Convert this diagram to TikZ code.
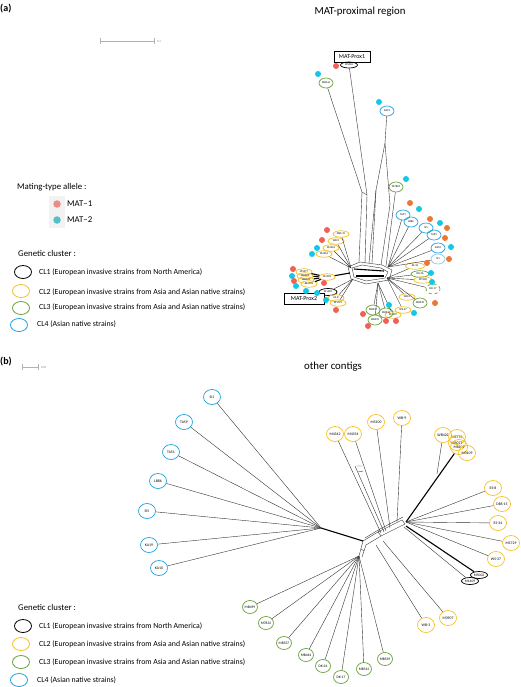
\documentclass[tikz,border=0pt]{standalone}
\usepackage{fontspec}
\setmainfont{Carlito}
\usetikzlibrary{shapes.geometric,positioning}
\definecolor{clyellow}{RGB}{246,192,36}
\definecolor{clgreen}{RGB}{104,160,56}
\definecolor{clblue}{RGB}{28,160,222}
\definecolor{cllight}{RGB}{130,200,236}
\definecolor{matred}{RGB}{240,96,86}
\definecolor{matcyan}{RGB}{18,200,228}
\definecolor{matorange}{RGB}{236,118,52}
\definecolor{keyred}{RGB}{236,140,132}
\definecolor{keycyan}{RGB}{86,190,198}

\begin{document}
\begin{tikzpicture}[x=1pt, y=-1pt,
    strain/.style={ellipse, draw, line width=0.7pt, inner sep=0pt, font=\fontsize{2.8}{3}\selectfont},
    sa/.style={strain, minimum width=14pt, minimum height=10pt},
    sy/.style={strain, minimum width=16pt, minimum height=6.5pt},
    sb/.style={strain, minimum width=17pt, minimum height=15pt, font=\fontsize{3.8}{4}\selectfont},
    sg/.style={strain, minimum width=15pt, minimum height=13pt, font=\fontsize{3.6}{4}\selectfont},
    c1/.style={draw=black},
    c2/.style={draw=clyellow},
    c3/.style={draw=clgreen},
    c4/.style={draw=clblue},
    mat/.style={circle, inner sep=0pt, minimum size=6pt},
    prox/.style={draw, fill=white, inner sep=0pt, minimum height=11pt, font=\fontsize{6}{7}\selectfont},
    branch/.style={draw=black!80, line width=0.4pt},
    heavy/.style={draw=black, line width=1.1pt},
    legtext/.style={font=\fontsize{8.8}{10}\selectfont, anchor=west, inner sep=0pt},
    cltext/.style={font=\fontsize{7.8}{9}\selectfont, anchor=west, inner sep=0pt},
    legkey/.style={ellipse, draw, line width=0.8pt, minimum width=17pt, minimum height=13pt, inner sep=0pt},
    headtext/.style={font=\fontsize{10.8}{12}\selectfont}
]
\useasboundingbox (0,0) rectangle (520,687);

% panel letters and titles
\node[font=\bfseries\fontsize{10}{12}\selectfont, anchor=west, inner sep=0pt] (pa) at (0,9) {(a)};
\node[font=\bfseries\fontsize{10}{12}\selectfont, anchor=west, inner sep=0pt] (pb) at (0,362) {(b)};
\node[headtext] (ta) at (360,12) {MAT-proximal region};
\node[headtext] (tb) at (333,367) {other contigs};

% scale bars
\coordinate (sa1) at (100,41);
\coordinate (sa2) at (155,41);
\draw[gray!60, line width=0.6pt, |-|] (sa1) -- (sa2);
\node[font=\fontsize{3}{3}\selectfont, text=gray, anchor=west, inner sep=0pt] (sal) at (157,42) {0.1};
\coordinate (sb1) at (22,367);
\coordinate (sb2) at (39,367);
\draw[gray!60, line width=0.6pt, |-|] (sb1) -- (sb2);
\node[font=\fontsize{3}{3}\selectfont, text=gray, anchor=west, inner sep=0pt] (sbl) at (41,368) {0.01};

% legend (a)
\node[legtext] (matlab) at (17,187) {Mating-type allele :};
\fill[gray!10] (49,196) rectangle (65,228);
\node[mat, fill=keyred, minimum size=7.5pt] (k1) at (57,204) {};
\node[mat, fill=keycyan, minimum size=7.5pt] (k2) at (57,220) {};
\node[legtext, right=6pt of k1] (k1t) {MAT–1};
\node[legtext, right=6pt of k2] (k2t) {MAT–2};

\node[legtext] (gcla) at (18,253) {Genetic cluster :};
\node[legkey, c1] (la1) at (23,272) {};
\node[legkey, c2] (la2) at (21,291) {};
\node[legkey, c3] (la3) at (21,308) {};
\node[legkey, c4] (la4) at (19,325) {};
\node[cltext] (ta1) at (39,272) {CL1 (European invasive strains from North America)};
\node[cltext] (ta2) at (39,292) {CL2 (European invasive strains from Asia and Asian native strains)};
\node[cltext] (ta3) at (39,307) {CL3 (European invasive strains from Asia and Asian native strains)};
\node[cltext] (ta4) at (37,324) {CL4 (Asian native strains)};

% legend (b)
\node[legtext] (gclb) at (18,607) {Genetic cluster :};
\node[legkey, c1] (lb1) at (23,626) {};
\node[legkey, c2] (lb2) at (21,644) {};
\node[legkey, c3] (lb3) at (21,662) {};
\node[legkey, c4] (lb4) at (19,680) {};
\node[cltext] (tb1) at (39,626) {CL1 (European invasive strains from North America)};
\node[cltext] (tb2) at (39,644) {CL2 (European invasive strains from Asia and Asian native strains)};
\node[cltext] (tb3) at (39,662) {CL3 (European invasive strains from Asia and Asian native strains)};
\node[cltext] (tb4) at (37,680) {CL4 (Asian native strains)};

% ---------- network (a) ----------
\node[prox] (prox1) at (352,56.5) [minimum width=36pt] {MAT-Prox1};
\node[sy, c1, minimum width=17pt, minimum height=6pt] (aM5002) at (349,65) {M5002};
\node[sa, c3] (aMB444) at (326,83) {MB444};
\node[sa, c4] (aKA19) at (387,111) {KA19};
\node[sa, c3] (aM7832) at (396,187) {M7832};

\node[sa, c4] (aTA51) at (403,215) {TA51};
\node[sa, c4] (aLB86) at (411,222) {LB86};
\node[sa, c4] (aSI5) at (426,228) {SI5};
\node[sa, c4] (aTA59) at (434,235) {TA59};
\node[sa, c4] (aKA10) at (438,248) {KA10};
\node[sa, draw=cllight] (aSI1) at (438,259) {SI1};

\node[sy, c2] (aDBS15) at (341,234) {DBS-15};
\node[sy, c2] (aWB9) at (336,241) {WB-9};
\node[sy, c2] (aM4342) at (331,248) {M4342};
\node[sy, c2] (aM4354) at (324,254) {M4354};
\node[sy, c2] (aM5077) at (304,272) {M5077};
\node[sy, c2] (aM8109) at (305,276) {M8109};
\node[sy, c2] (aWB422) at (306,280) {WB422};
\node[sy, c2] (aM1776) at (309,284) {M1776};
\node[sy, c2] (aM3109) at (327,277) {M3109};
\node[sy, c1, minimum width=18pt, minimum height=7pt] (aM1409) at (328,292) {M1409};
\node[sy, c2] (aES8) at (336,298) {ES-8};
\node[sy, c2] (aM1729) at (338,303) {M1729};
\node[prox] (prox2) at (304,298.5) [minimum width=40pt] {MAT-Prox2};

\node[sy, c2, minimum width=19pt] (aES34) at (415,266) {ES-34};
\node[sy, c3, minimum width=18pt] (aDK26) at (420,274) {DK-26};
\node[sy, c2, minimum width=18pt] (aM5100) at (423,280) {M5100};
\node[sa, c3, dashed] (aDK17) at (433,289) {DK-17};
\node[sy, c2] (aWB3) at (407,297) {WB-3};
\node[sa, c3] (aMB539) at (420,303) {MB539};
\node[sy, c2] (aWS37) at (403,310) {WS-37};
\node[sy, c2] (aM3907) at (393,315) {M3907};
\node[sa, c3] (aMB537) at (373,310) {MB537};
\node[sa, c3] (aMB499) at (375,320) {MB499};
\node[sa, c3] (aMB512) at (386,313) {MB512};

\coordinate (aT1) at (362,192);
\coordinate (aT2) at (367,195);
\coordinate (aT3) at (385,143);
\coordinate (aT4) at (376,190);
\coordinate (aT5) at (390,205);
\draw[branch] (aMB444) -- (aT1) -- (359,262);
\draw[branch] (aM5002) -- (aT2) -- (365,263);
\draw[branch] (aT1) -- (aT2);
\draw[branch] (aKA19) -- (aT3) -- (aT4) -- (372,263);
\draw[branch] (aT3) -- (aT5) -- (381,265);
\draw[branch] (aT4) -- (369,263);
\draw[branch] (aM7832) -- (386,266);

% central splits box
\draw[branch] (348,267) -- (360,262) -- (382,265) -- (392,270) -- (389,280) -- (366,284) -- (351,279) -- cycle;
\draw[branch] (352,268) -- (362,265) -- (381,268) -- (388,272) -- (385,278) -- (366,281) -- (354,277) -- cycle;
\draw[heavy] (354,269) -- (384,271);
\draw[heavy] (356,276) -- (384,276);

\foreach \n in {aTA51,aLB86,aSI5,aTA59,aKA10,aSI1}
    \draw[branch] (388,267) -- (\n);
\foreach \n in {aDBS15,aWB9,aM4342,aM4354}
    \draw[branch] (351,268) -- (\n);
\draw[heavy] (350,273) -- (aM3109);
\foreach \n in {aM5077,aM8109,aWB422,aM1776}
    \draw[heavy] (aM3109) -- (\n);
\foreach \n in {aM1409,aES8,aM1729}
    \draw[branch] (353,279) -- (\n);
\foreach \n in {aES34,aDK26,aM5100,aDK17,aWB3,aMB539,aWS37}
    \draw[branch] (387,278) -- (\n);
\foreach \n in {aM3907,aMB537,aMB499,aMB512}
    \draw[branch] (378,283) -- (\n);

% mating-type dots
\foreach \x/\y/\c [count=\i] in {336/66/matred, 318/74/matcyan, 379/102/matcyan, 406/179/matcyan,
    410/203/matorange, 419/209/matcyan, 430/219/matorange, 440/223/matcyan, 447/228/matorange,
    445/238/matorange, 451/247/matcyan, 449/259/matorange,
    327/230/matred, 322/240/matred, 317/248/matcyan, 312/254/matcyan,
    293/269/matred, 292/276/matcyan, 294/281/matred, 296/286/matcyan, 306/291/matcyan, 317/293/matcyan,
    324/283/matred, 326/300/matcyan, 336/310/matred,
    427/263/matorange, 431/273/matcyan, 432/282/matcyan, 435/303/matorange,
    389/305/matcyan, 414/313/matcyan, 363/314/matred, 368/326/matred, 386/321/matred, 396/321/matred}
    \node[mat, fill=\c] (d\i) at (\x,\y) {};

% ---------- network (b) ----------
\node[sb, c4] (bSI1) at (212,397) {SI1};
\node[sb, c4] (bTA59) at (184,422) {TA59};
\node[sb, c4] (bTA51) at (171,452) {TA51};
\node[sb, c4] (bLB86) at (158,481) {LB86};
\node[sb, c4] (bSI5) at (147,511) {SI5};
\node[sb, c4] (bKA19) at (149,545) {KA19};
\node[sb, c4] (bKA10) at (159,568) {KA10};

\node[sb, c2] (bM4342) at (335,434) {M4342};
\node[sb, c2] (bM4354) at (353,434) {M4354};
\node[sb, c2] (bM5100) at (376,422) {M5100};
\node[sb, c2] (bWB9) at (402,418) {WB-9};
\node[sb, c2] (bWB422) at (443,435) {WB422};
\node[sb, c2] (bM1776) at (457,437) {M1776};
\node[sb, c2] (bM5077) at (457,443) {M5077};
\node[sb, c2] (bM8109) at (459,447) {M8109};
\node[sb, c2] (bM3109) at (467,453) {M3109};
\node[sb, c2] (bES8) at (493,488) {ES-8};
\node[sb, c2] (bDBS15) at (502,504) {DBS-15};
\node[sb, c2] (bES34) at (498,523) {ES-34};
\node[sb, c2] (bM1729) at (511,543) {M1729};
\node[sb, c2] (bWS37) at (496,559) {WS-37};
\node[sb, c2] (bM3907) at (448,618) {M3907};
\node[sb, c2] (bWB3) at (426,625) {WB-3};
\node[strain, c1, minimum width=17pt, minimum height=7pt, font=\fontsize{3.6}{4}\selectfont] (bM5002) at (479,575) {M5002};
\node[strain, c1, minimum width=17pt, minimum height=7pt, font=\fontsize{3.6}{4}\selectfont] (bM1409) at (470,581) {M1409};

\node[sg, c3] (bMB499) at (250,607) {MB499};
\node[sg, c3] (bM7832) at (266,623) {M7832};
\node[sg, c3] (bMB537) at (284,643) {MB537};
\node[sg, c3] (bMB444) at (306,655) {MB444};
\node[sg, c3] (bDK26) at (323,666) {DK-26};
\node[sg, c3] (bDK17) at (341,677) {DK-17};
\node[sg, c3] (bMB512) at (364,669) {MB512};
\node[sg, c3] (bMB539) at (385,659) {MB539};

\coordinate (bL) at (321,528);
\coordinate (bG) at (359,556);
\coordinate (bR) at (406,522);
\foreach \n in {bSI1,bTA59,bTA51,bLB86,bSI5,bKA19,bKA10}
    \draw[branch] (\n) -- (bL);
\draw[heavy] (bL) -- (363,541);

% central splits
\draw[branch] (363,541) -- (378,532) -- (402,520);
\draw[branch] (366,545) -- (381,536) -- (405,524);
\draw[branch] (365,538) -- (380,529) -- (403,517);
\draw[branch] (378,532) -- (381,536) (402,520) -- (405,524) (380,529) -- (378,532);
\draw[branch] (363,541) -- (359,556) (366,545) -- (362,557) (361,549) -- (364,551);

\draw[branch] (bM4342) -- (381,533);
\draw[branch] (bM4354) -- (386,531);
\draw[branch] (355,466) -- (384,532);
\draw[branch] (357,466) -- (362,466) (358,472) -- (363,471);
\draw[branch] (bM5100) -- (390,528);
\draw[branch] (bWB9) -- (397,522);
\draw[heavy] (bR) -- (bM8109);
\draw[branch] (bWB422) -- (437,474);
\foreach \n in {bES8,bDBS15,bES34,bM1729,bWS37}
    \draw[branch] (bR) -- (\n);
\draw[heavy] (406,526) -- (bM5002);
\draw[branch] (404,527) -- (bM1409);
\draw[branch] (376,545) -- (bWB3);
\draw[branch] (383,541) -- (bM3907);
\foreach \n in {bMB499,bM7832,bMB537,bMB444,bDK26,bDK17,bMB512,bMB539}
    \draw[branch] (bG) -- (\n);
\end{tikzpicture}
\end{document}
